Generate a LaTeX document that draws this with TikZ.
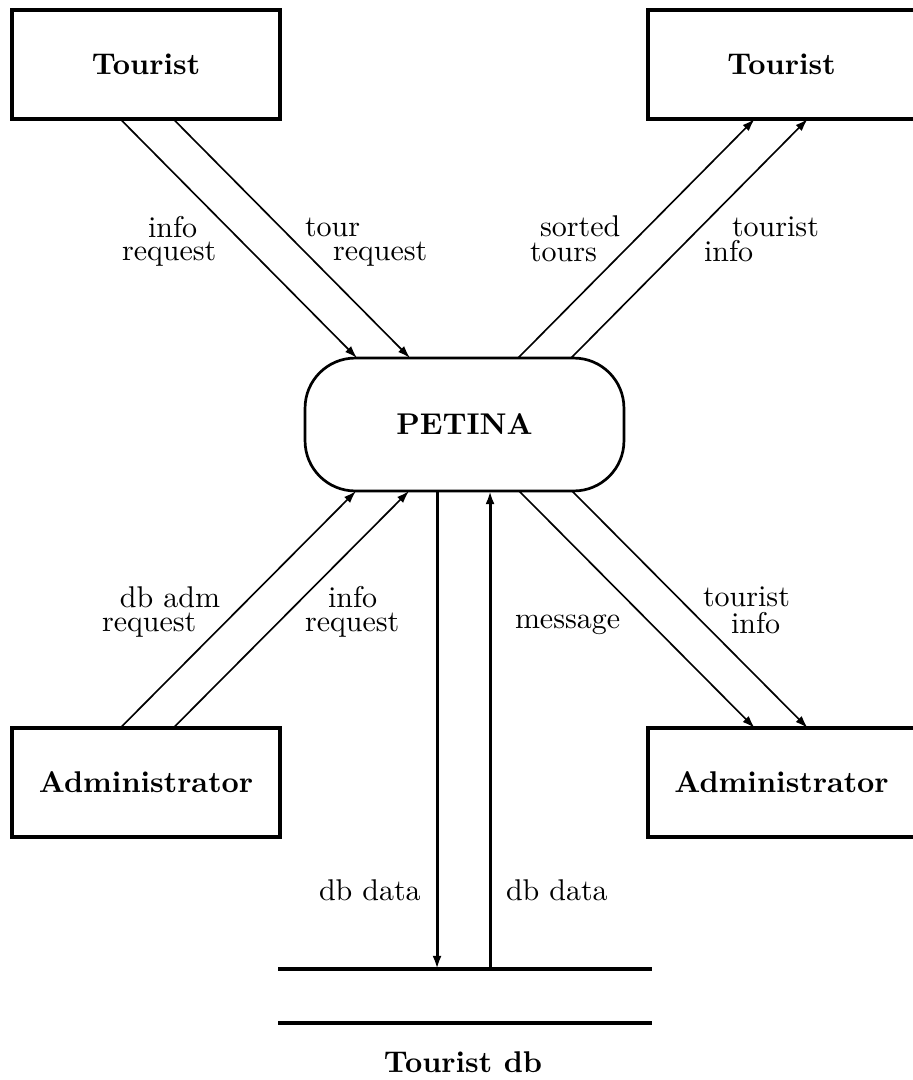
\documentclass[tikz,border=0pt]{standalone}
\usetikzlibrary{arrows.meta,calc}
\begin{document}
\begin{tikzpicture}[x=0.33333pt,y=-0.33333pt,
  ent/.style={draw, line width=1.3pt, minimum width=89.2pt, minimum height=36.3pt, inner sep=0pt, outer sep=0pt, font=\bfseries},
  proc/.style={draw, line width=0.9pt, rounded corners=16.7pt, minimum width=106.3pt, minimum height=44.3pt, inner sep=0pt, outer sep=0pt, font=\bfseries},
  flow/.style={line width=0.55pt, -{Latex[length=4.2pt,width=2.8pt]}},
  dflow/.style={line width=1pt, -{Latex[length=4.4pt,width=3pt]}},
  store/.style={line width=1.2pt},
  lbl/.style={anchor=base west, inner sep=0pt, outer sep=0pt}]
\useasboundingbox (0,0) rectangle (913,1080);
% entities
\node[ent] (t1) at (146,64.5) {Tourist};
\node[ent] (t2) at (781.5,64.5) {Tourist};
\node[ent] (a1) at (146,782.5) {Administrator};
\node[ent] (a2) at (781.5,782.5) {Administrator};
\node[proc] (p) at (464.5,424.5) {PETINA};
% data store
\coordinate (dbl) at (278,969); \coordinate (dbr) at (652,969);
\coordinate (dbl2) at (278,1023); \coordinate (dbr2) at (652,1023);
\draw[store] (dbl) -- (dbr);
\draw[store] (dbl2) -- (dbr2);
\node[font=\bfseries, anchor=base, inner sep=0pt] (dbn) at (463,1072) {Tourist db};
% flows top-left
\draw[flow] ($(t1.south west)+(108,0)$) -- ($(p.north west)+(52,0)$);
\draw[flow] ($(t1.south west)+(161,0)$) -- ($(p.north west)+(105,0)$);
% flows top-right
\draw[flow] ($(p.north west)+(213,0)$) -- ($(t2.south west)+(107,0)$);
\draw[flow] ($(p.north west)+(266,0)$) -- ($(t2.south west)+(160,0)$);
% flows bottom-left
\draw[flow] ($(a1.north west)+(108,0)$) -- ($(p.south west)+(51,0)$);
\draw[flow] ($(a1.north west)+(161,0)$) -- ($(p.south west)+(104,0)$);
% flows bottom-right
\draw[flow] ($(p.south west)+(214,0)$) -- ($(a2.north west)+(107,0)$);
\draw[flow] ($(p.south west)+(267,0)$) -- ($(a2.north west)+(160,0)$);
% vertical flows
\coordinate (v1) at ($(p.south west)+(132,0)$);
\coordinate (v2) at ($(p.south west)+(185,0)$);
\draw[dflow] (v1) -- (v1 |- dbl);
\draw[dflow] (v2 |- dbl) -- (v2);
% labels
\node[lbl] (l1a) at (148,237) {info};
\node[lbl] (l1b) at (122,260) {request};
\node[lbl] (l2a) at (305,236) {tour};
\node[lbl] (l2b) at (333,260) {request};
\node[lbl] (l3a) at (540,236) {sorted};
\node[lbl] (l3b) at (530,261) {tours};
\node[lbl] (l4a) at (732,236) {tourist};
\node[lbl] (l4b) at (704,261) {info};
\node[lbl] (l5a) at (120,607) {db adm};
\node[lbl] (l5b) at (102,631) {request};
\node[lbl] (l6a) at (328,607) {info};
\node[lbl] (l6b) at (305,631) {request};
\node[lbl] (l7) at (515,628) {message};
\node[lbl] (l8a) at (703,606) {tourist};
\node[lbl] (l8b) at (731,633) {info};
\node[lbl] (l9) at (319,900) {db data};
\node[lbl] (l10) at (506,900) {db data};
\end{tikzpicture}
\end{document}
